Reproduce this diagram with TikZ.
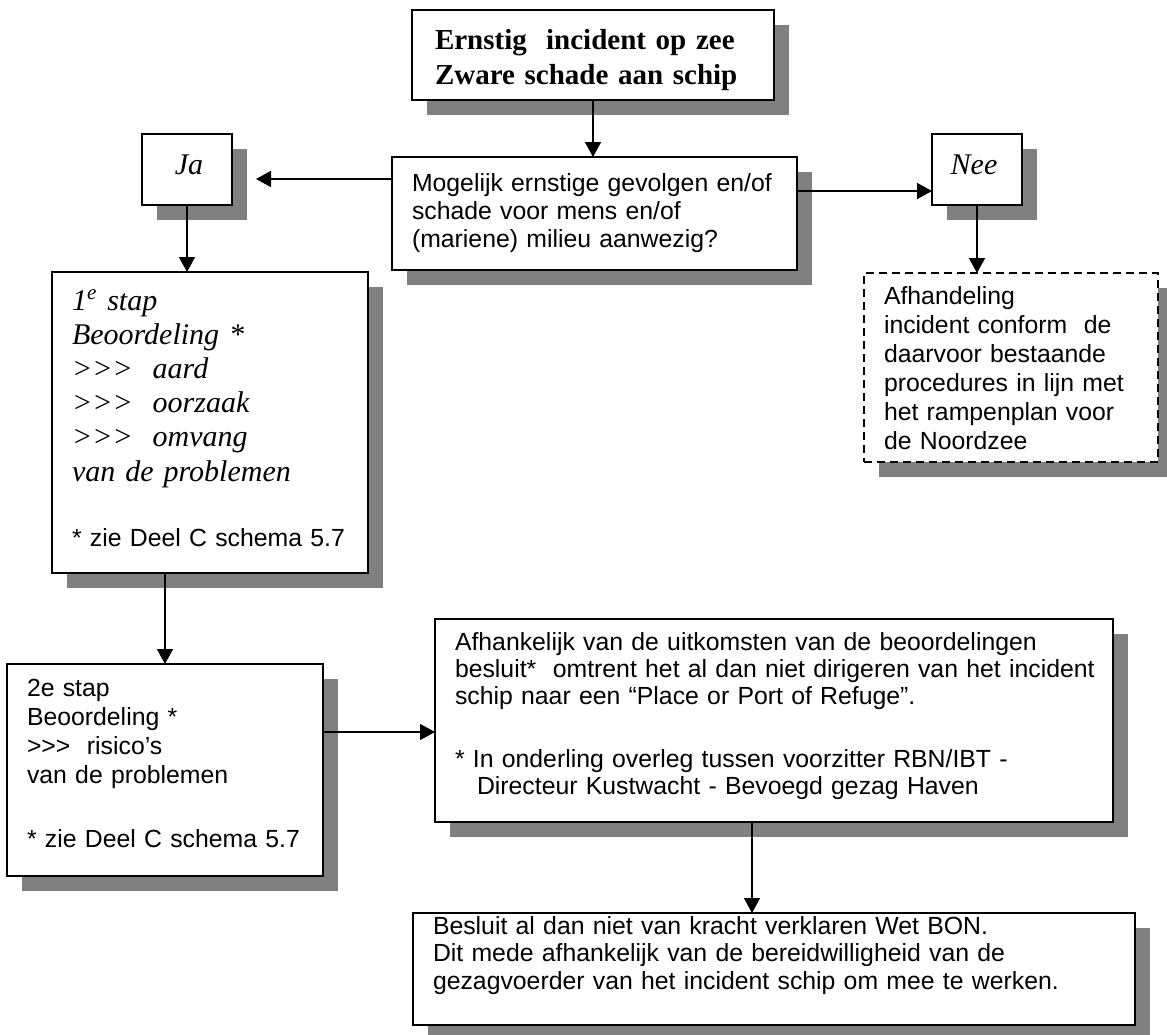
\documentclass[tikz,border=0pt]{standalone}
\usepackage{fontspec}
\setmainfont{Liberation Serif}
\newfontfamily\arialf{Liberation Sans}
\usetikzlibrary{arrows.meta}
\definecolor{shadowc}{RGB}{128,128,128}
\tikzset{
  boxst/.style={draw, line width=1pt, fill=white, rectangle, inner sep=0pt, outer sep=0pt},
  dashbox/.style={boxst, dash pattern=on 4pt off 2.5pt},
  arr/.style={line width=0.8pt, -{Triangle[length=7.5pt,width=8pt]}},
  txt/.style={anchor=base west, inner sep=0pt, outer sep=0pt, text width=400pt, align=left},
  sans/.style={font=\arialf\fontsize{12.4}{14}\selectfont},
  ital/.style={font=\itshape\fontsize{15}{17.1}\selectfont},
  boldt/.style={font=\bfseries\fontsize{14.5}{17.5}\selectfont},
}
\begin{document}
\begin{tikzpicture}[x=0.5pt,y=-0.5pt]
\useasboundingbox (0,0) rectangle (1167,1034);
% shadows
\fill[shadowc] (427,25) rectangle (789,115);
\fill[shadowc] (407,172) rectangle (812,285);
\fill[shadowc] (157,149) rectangle (247,220);
\fill[shadowc] (947,149) rectangle (1037,220);
\fill[shadowc] (67,287) rectangle (383,588);
\fill[shadowc] (879,288) rectangle (1173,477);
\fill[shadowc] (22,679) rectangle (338,891);
\fill[shadowc] (450,634) rectangle (1128,837);
\fill[shadowc] (428,928) rectangle (1150,1040);
% boxes
\node[boxst, minimum width=181pt, minimum height=45pt] (top) at (593,55) {};
\node[boxst, minimum width=202.5pt, minimum height=56.5pt] (q) at (594.5,213.5) {};
\node[boxst, minimum width=45pt, minimum height=35.5pt] (ja) at (187,169.5) {};
\node[boxst, minimum width=45pt, minimum height=35.5pt] (nee) at (977,169.5) {};
\node[boxst, minimum width=158pt, minimum height=150.5pt] (b1) at (210,422.5) {};
\node[dashbox, minimum width=147pt, minimum height=94.5pt] (afh) at (1011,367.5) {};
\node[boxst, minimum width=158pt, minimum height=106pt] (b2) at (165,770) {};
\node[boxst, minimum width=339pt, minimum height=101.5pt] (big) at (774,720.5) {};
\node[boxst, minimum width=361pt, minimum height=56pt] (bot) at (774,969) {};
% texts
\node[txt, boldt] (ttop) at (435,49) {Ernstig\ \ incident op zee\\Zware schade aan schip};
\node[txt, sans] (tq) at (412,191) {Mogelijk ernstige gevolgen en/of\\schade voor mens en/of\\(mariene) milieu aanwezig?};
\node[anchor=base, inner sep=0pt, ital] (tja) at (189,174) {Ja};
\node[anchor=base, inner sep=0pt, ital] (tnee) at (974,174) {Nee};
\node[txt, ital] (tb1) at (72,310) {1\textsuperscript{e} stap\\Beoordeling *\\>{}>{}>\ \ aard\\>{}>{}>\ \ oorzaak\\>{}>{}>\ \ omvang\\van de problemen};
\node[txt, sans] (tb1n) at (72,546) {* zie Deel C schema 5.7};
\node[txt, sans, font=\arialf\fontsize{12.4}{14.5}\selectfont] (tafh) at (884,304) {Afhandeling\\incident conform\ \ de\\daarvoor bestaande\\procedures in lijn met\\het rampenplan voor\\de Noordzee};
\node[txt, sans, font=\arialf\fontsize{12.4}{14.5}\selectfont] (tb2) at (27,696) {2e stap\\Beoordeling *\\>>>\ \ risico’s\\van de problemen};
\node[txt, sans] (tb2n) at (27,847) {* zie Deel C schema 5.7};
\node[txt, sans, font=\arialf\fontsize{12.4}{13.5}\selectfont] (tbig) at (455,650) {Afhankelijk van de uitkomsten van de beoordelingen\\besluit*\ \ omtrent het al dan niet dirigeren van het incident\\schip naar een “Place or Port of Refuge”.\\[18pt]* In onderling overleg tussen voorzitter RBN/IBT -\\\hspace*{11pt}Directeur Kustwacht - Bevoegd gezag Haven};
\node[txt, sans, font=\arialf\fontsize{12.4}{13.75}\selectfont] (tbot) at (433,934) {Besluit al dan niet van kracht verklaren Wet BON.\\Dit mede afhankelijk van de bereidwilligheid van de\\gezagvoerder van het incident schip om mee te werken.};
% connectors
\coordinate (jatip) at (256,179);
\coordinate (neey) at (0,191);
\coordinate (m2) at (0,732);
\coordinate (m3) at (752,0);
\draw[arr] (top.south) -- (top.south |- q.north);
\draw[arr] (q.west |- jatip) -- (jatip);
\draw[arr] (q.east |- neey) -- (nee.west |- neey);
\draw[arr] (ja.south) -- (ja.south |- b1.north);
\draw[arr] (nee.south) -- (nee.south |- afh.north);
\draw[arr] (b2.north |- b1.south) -- (b2.north);
\draw[arr] (b2.east |- m2) -- (big.west |- m2);
\draw[arr] (m3 |- big.south) -- (m3 |- bot.north);
\end{tikzpicture}
\end{document}
